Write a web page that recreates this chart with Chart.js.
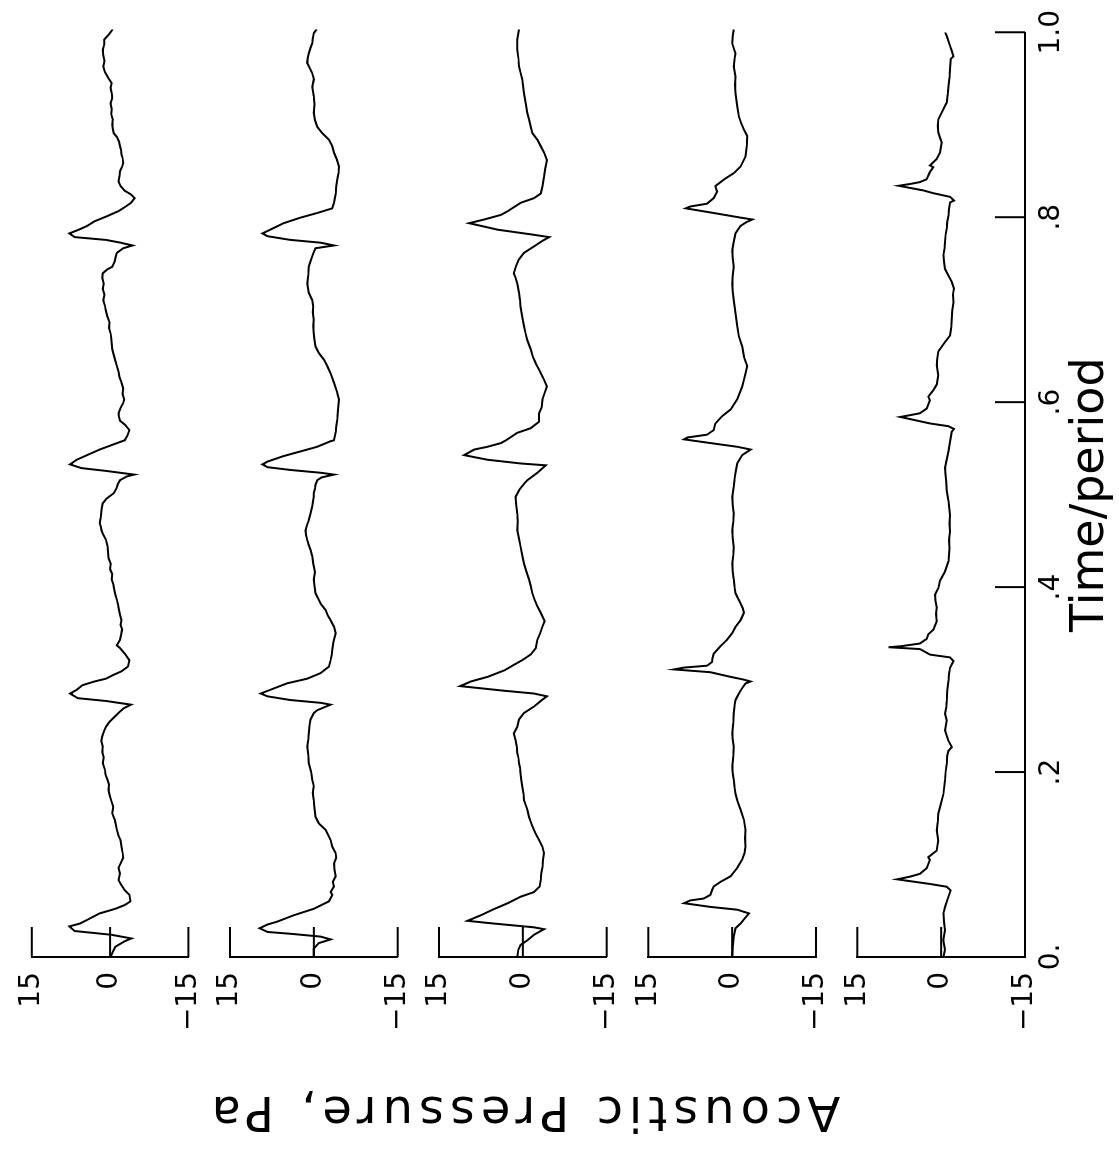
<!DOCTYPE html>
<html><head><meta charset="utf-8">
<script src="https://cdn.jsdelivr.net/npm/chart.js@4.4.1/dist/chart.umd.min.js"></script>
<style>
html,body{margin:0;padding:0;background:#fff;overflow:hidden;width:1119px;height:1153px;}
#fig{position:absolute;left:-17px;top:17px;width:1153px;height:1119px;transform:rotate(-90deg);transform-origin:50% 50%;background:#fff;}
#fig canvas{position:absolute;left:0;top:0;}
#ytitle{position:absolute;left:-411px;top:499px;width:900px;height:48px;line-height:48px;text-align:center;
 font-family:'DejaVu Sans',sans-serif;font-size:48px;letter-spacing:6px;color:#000;white-space:nowrap;transform:rotate(-90deg);transform-origin:50% 50%;}
</style></head>
<body>
<div id="fig">
<canvas id="c0" width="1153" height="1119"></canvas>
<canvas id="c1" width="1153" height="1119"></canvas>
<canvas id="c2" width="1153" height="1119"></canvas>
<canvas id="c3" width="1153" height="1119"></canvas>
<canvas id="c4" width="1153" height="1119"></canvas>
<div id="ytitle">Acoustic Pressure, Pa</div>
</div>
<script>
// ---------- data: [time/period, acoustic pressure Pa] ----------
const panel1 = [[0,-0.1],[.004,-0.4],[.011,-1.0],[.017,-2.8],[.020,-4.1],[.024,-0.2],[.028,6.8],[.033,7.8],[.036,5.8],[.040,4.4],[.047,2.0],[.052,-1.0],[.056,-2.8],[.060,-3.9],[.067,-3.7],[.072,-2.8],[.078,-2.1],[.083,-1.6],[.090,-1.9],[.096,-1.6],[.101,-2.0],[.107,-2.5],[.112,-2.4],[.119,-2.2],[.126,-2.0],[.131,-1.6],[.137,-1.3],[.143,-1.1],[.148,-0.9],[.155,-0.4],[.162,-0.6],[.169,-0.2],[.175,0.1],[.180,0.3],[.186,0.2],[.191,0.5],[.197,0.9],[.202,1.0],[.209,1.4],[.215,1.2],[.221,1.5],[.227,1.4],[.233,1.7],[.238,1.5],[.243,1.2],[.248,0.8],[.253,0.2],[.257,-0.5],[.263,-1.6],[.268,-2.6],[.272,-4.0],[.276,0.8],[.279,6.2],[.284,7.7],[.288,6.4],[.293,5.3],[.297,3.0],[.300,0.8],[.304,-0.6],[.308,-2.2],[.313,-3.4],[.320,-3.7],[.327,-2.8],[.333,-1.9],[.336,-1.3],[.342,-1.9],[.347,-2.1],[.353,-2.3],[.358,-2.0],[.363,-2.2],[.369,-1.9],[.374,-1.7],[.380,-1.5],[.385,-1.3],[.391,-1.0],[.396,-0.8],[.402,-0.6],[.407,-0.3],[.413,-0.4],[.418,0.0],[.424,-0.1],[.430,0.3],[.437,0.4],[.443,0.5],[.450,0.8],[.455,1.3],[.459,1.6],[.464,1.8],[.468,2.0],[.474,1.8],[.479,1.7],[.484,1.6],[.489,1.4],[.494,0.7],[.500,-0.7],[.505,-1.2],[.510,-1.5],[.514,-1.9],[.518,-3.2],[.520,-4.6],[.524,0.8],[.527,5.5],[.531,7.7],[.536,6.4],[.541,4.4],[.547,2.0],[.552,-0.4],[.557,-2.8],[.562,-3.3],[.568,-3.7],[.574,-2.8],[.578,-1.9],[.582,-1.7],[.586,-1.6],[.592,-2.0],[.597,-2.5],[.601,-2.7],[.607,-2.4],[.613,-2.5],[.619,-2.2],[.625,-1.8],[.631,-1.6],[.637,-1.3],[.643,-1.0],[.649,-0.7],[.655,-0.4],[.661,-0.3],[.667,-0.2],[.672,-0.1],[.678,0.2],[.684,0.1],[.690,0.5],[.696,0.8],[.702,1.0],[.708,1.3],[.714,1.1],[.720,1.4],[.726,1.2],[.732,1.5],[.737,1.4],[.741,0.6],[.744,-0.4],[.750,-0.9],[.755,-1.1],[.759,-1.3],[.764,-2.5],[.767,-4.3],[.770,-2.0],[.773,0.8],[.776,6.8],[.780,7.8],[.784,6.0],[.788,4.4],[.793,3.0],[.798,0.8],[.804,-1.6],[.809,-3.0],[.813,-4.0],[.818,-4.7],[.822,-4.0],[.826,-2.8],[.831,-2.0],[.836,-1.6],[.842,-1.8],[.847,-1.9],[.852,-2.3],[.856,-2.5],[.861,-2.4],[.865,-2.2],[.870,-2.1],[.874,-1.9],[.879,-1.7],[.884,-1.3],[.888,-0.7],[.893,-0.5],[.897,-0.4],[.903,-0.5],[.909,-0.2],[.914,-0.3],[.920,-0.1],[.926,-0.4],[.931,-0.3],[.937,-0.1],[.942,-0.3],[.948,0.4],[.954,1.0],[.960,1.3],[.966,1.1],[.972,1.3],[.978,1.4],[.984,1.1],[.989,1.1],[.994,0.3],[1.0,-0.5]];
const panel2 = [[0,0],[.009,0],[.015,-0.9],[.019,-3.0],[.022,-1.2],[.025,4.1],[.027,8.3],[.031,9.7],[.035,8.3],[.038,6.6],[.045,3.6],[.052,0],[.060,-2.7],[.067,-3.3],[.070,-3.0],[.076,-3.6],[.081,-3.4],[.087,-3.9],[.094,-3.7],[.101,-3.6],[.107,-4.0],[.112,-3.9],[.119,-3.3],[.126,-3.0],[.131,-2.6],[.137,-2.1],[.144,-0.9],[.151,-0.3],[.160,-0.1],[.169,0],[.177,0.2],[.184,0.0],[.191,0.3],[.197,0.4],[.202,0.6],[.209,0.9],[.218,1.0],[.227,1.2],[.234,1.0],[.241,0.9],[.249,0.8],[.256,0.6],[.263,0],[.266,-0.6],[.272,-3.0],[.274,-1.2],[.277,4.2],[.281,8.3],[.284,9.5],[.288,7.8],[.295,4.8],[.300,1.2],[.306,-1.2],[.313,-2.7],[.320,-3.0],[.326,-3.2],[.331,-3.3],[.340,-3.5],[.349,-3.9],[.356,-3.6],[.363,-3.0],[.368,-2.5],[.374,-2.1],[.381,-1.2],[.386,-0.8],[.392,-0.3],[.400,-0.1],[.407,0],[.415,-0.2],[.424,0.1],[.432,0.3],[.439,0.6],[.444,0.9],[.450,1.2],[.455,1.4],[.460,1.5],[.466,1.2],[.471,0.9],[.478,0.6],[.486,0.3],[.496,0],[.500,0],[.505,-0.2],[.509,-0.3],[.514,-0.6],[.517,-1.4],[.520,-3.6],[.522,-1.2],[.525,4.2],[.528,8.3],[.531,9.2],[.534,8.3],[.540,5.4],[.545,2.4],[.550,-0.6],[.556,-3.0],[.557,-3.6],[.566,-3.9],[.572,-4.0],[.579,-4.2],[.590,-4.3],[.601,-4.5],[.608,-4.2],[.619,-3.6],[.629,-3.0],[.637,-2.4],[.644,-1.8],[.651,-0.9],[.658,-0.3],[.665,-0.1],[.672,0],[.680,0.1],[.687,0],[.695,0.2],[.701,0.1],[.708,0.3],[.716,0.9],[.726,1.2],[.735,1.0],[.744,0.9],[.750,0.6],[.755,0.3],[.760,0.0],[.764,-0.3],[.767,-3.6],[.770,-1.2],[.773,4.2],[.777,8.3],[.780,9.2],[.784,7.8],[.791,5.4],[.797,2.4],[.802,-0.6],[.807,-3.3],[.813,-3.6],[.823,-3.9],[.831,-4.0],[.838,-4.2],[.845,-4.4],[.852,-4.5],[.860,-4.1],[.867,-3.6],[.874,-3.3],[.881,-2.7],[.888,-1.5],[.895,-0.6],[.902,-0.2],[.910,0],[.919,-0.1],[.928,0],[.938,0.3],[.946,0],[.953,0.3],[.959,0.8],[.964,1.2],[.969,1.1],[.974,0.9],[.980,0.6],[.985,0.3],[.990,0.2],[.996,0],[1.0,-0.5]];
const panel3 = [[0,1.0],[.008,0.8],[.013,0.4],[.018,-0.8],[.024,-2.0],[.030,-3.8],[.032,-2.0],[.036,5.1],[.039,9.9],[.045,7.5],[.051,5.4],[.058,2.7],[.065,0.4],[.070,-2.0],[.076,-3.0],[.083,-3.2],[.090,-3.3],[.097,-3.5],[.105,-3.6],[.112,-3.8],[.119,-3.5],[.126,-2.9],[.133,-2.3],[.141,-1.7],[.146,-1.4],[.151,-1.1],[.159,-0.8],[.164,-0.5],[.169,-0.2],[.176,-0.1],[.184,0.1],[.191,0.3],[.198,0.4],[.204,0.5],[.209,0.7],[.215,0.8],[.220,1.0],[.227,1.1],[.234,1.3],[.241,1.6],[.248,1.0],[.256,0.7],[.263,-0.2],[.270,-2.0],[.276,-3.2],[.281,-4.3],[.284,-2.0],[.287,3.3],[.292,11.2],[.297,9.3],[.302,6.3],[.309,3.3],[.315,1.6],[.320,0.1],[.326,-1.4],[.333,-2.3],[.342,-2.6],[.349,-3.1],[.356,-3.5],[.362,-3.9],[.371,-3.2],[.378,-2.6],[.385,-2.1],[.392,-1.7],[.400,-1.4],[.407,-1.1],[.416,-0.6],[.424,-0.2],[.433,0.1],[.442,0.4],[.451,0.7],[.460,1.0],[.469,0.9],[.478,1.0],[.487,1.2],[.496,1.3],[.504,0.6],[.510,-0.2],[.514,-0.8],[.522,-2.6],[.530,-4.1],[.532,0.4],[.536,6.3],[.541,10.5],[.547,8.7],[.550,6.3],[.554,3.9],[.557,3.0],[.565,1.0],[.570,-1.4],[.577,-2.9],[.586,-2.9],[.593,-3.4],[.601,-3.5],[.608,-3.9],[.615,-4.3],[.622,-3.8],[.633,-2.9],[.640,-2.3],[.647,-1.8],[.655,-1.4],[.665,-0.8],[.672,-0.5],[.680,-0.2],[.690,0.1],[.701,0.4],[.708,0.5],[.716,0.7],[.726,1.0],[.732,1.3],[.737,1.6],[.745,1.2],[.752,0.7],[.759,-0.2],[.766,-2.0],[.772,-3.5],[.776,-4.7],[.779,-1.4],[.784,4.5],[.791,9.6],[.795,6.9],[.800,3.9],[.804,2.7],[.813,0.4],[.818,-2.0],[.823,-3.2],[.831,-3.5],[.841,-3.8],[.850,-4.0],[.859,-4.3],[.867,-3.8],[.874,-3.2],[.881,-2.6],[.888,-1.7],[.895,-1.4],[.903,-1.1],[.910,-0.8],[.920,-0.5],[.931,-0.2],[.946,0.1],[.953,0.4],[.960,0.7],[.969,0.8],[.978,1.0],[.989,1.0],[1.0,0.7]];
const panel4 = [[0,0],[.011,-0.1],[.022,-0.3],[.031,-0.6],[.036,-1.5],[.042,-2.3],[.047,-3.0],[.051,-0.9],[.054,3.9],[.058,8.6],[.061,7.5],[.063,5.1],[.067,3.9],[.072,3.6],[.076,3.3],[.081,2.1],[.087,0.3],[.096,-0.9],[.105,-1.8],[.112,-2.2],[.119,-2.4],[.128,-2.3],[.137,-2.4],[.148,-2.1],[.159,-1.5],[.169,-0.9],[.176,-0.6],[.184,-0.4],[.191,-0.3],[.198,-0.1],[.205,0],[.216,-0.2],[.227,-0.3],[.234,-0.1],[.241,0],[.252,-0.2],[.263,-0.3],[.270,-0.4],[.277,-0.6],[.284,-1.2],[.290,-1.8],[.295,-2.4],[.297,-3.3],[.299,-2.1],[.302,0.3],[.307,3.9],[.310,10.4],[.312,8.6],[.314,4.5],[.318,3.6],[.322,3.5],[.327,3.3],[.335,2.1],[.342,0.9],[.349,0],[.356,-0.6],[.363,-1.5],[.371,-2.1],[.376,-1.9],[.381,-1.5],[.392,-0.6],[.400,-0.4],[.407,-0.3],[.415,-0.1],[.424,0],[.433,-0.2],[.442,-0.3],[.451,-0.1],[.460,0],[.469,-0.2],[.478,-0.3],[.487,-0.1],[.496,0],[.507,-0.3],[.514,-0.4],[.522,-0.6],[.532,-0.9],[.541,-1.8],[.547,-3.3],[.550,-0.9],[.554,3.9],[.558,8.6],[.560,8.0],[.563,4.5],[.568,3.3],[.575,3.0],[.583,1.8],[.590,0.3],[.601,-0.9],[.615,-1.8],[.622,-2.1],[.629,-2.4],[.637,-2.7],[.647,-2.1],[.658,-1.8],[.669,-1.2],[.680,-0.9],[.694,-0.6],[.708,-0.3],[.717,-0.1],[.726,0],[.735,-0.1],[.744,-0.3],[.753,-0.1],[.762,0],[.771,-0.3],[.780,-0.6],[.788,-1.5],[.792,-2.5],[.795,-3.6],[.797,-1.5],[.802,3.3],[.807,8.3],[.809,7.5],[.812,4.5],[.818,3.3],[.825,2.7],[.831,3.0],[.838,1.5],[.845,-0.3],[.852,-1.5],[.863,-2.4],[.874,-2.6],[.885,-2.7],[.892,-2.1],[.899,-1.6],[.906,-1.2],[.917,-0.9],[.931,-0.6],[.940,-0.5],[.949,-0.6],[.960,-0.3],[.967,-0.4],[.974,-0.6],[.985,0],[.993,-0.1],[1.0,-0.3]];
const panel5 = [[0,-0.4],[.008,-0.7],[.018,-0.4],[.029,-0.7],[.038,-0.5],[.047,-0.4],[.054,-0.7],[.065,-1.3],[.072,-1.7],[.076,-1.0],[.079,2.0],[.084,7.9],[.087,5.5],[.090,3.8],[.096,2.6],[.105,2.0],[.108,2.3],[.115,0.8],[.126,0.5],[.137,0.8],[.146,0.6],[.155,0.5],[.162,0.2],[.176,-0.4],[.191,-0.7],[.200,-0.8],[.209,-1.0],[.218,-1.1],[.223,-1.3],[.227,-1.9],[.234,-1.3],[.245,-0.7],[.256,-1.0],[.263,-0.7],[.270,-0.9],[.277,-1.0],[.288,-1.1],[.299,-1.3],[.306,-1.4],[.313,-1.6],[.320,-2.2],[.324,-1.6],[.327,2.0],[.333,3.8],[.335,9.4],[.336,7.3],[.339,3.8],[.344,2.6],[.349,2.3],[.354,1.4],[.363,0.8],[.371,0.9],[.378,0.8],[.385,1.0],[.392,1.1],[.399,0.5],[.407,0.2],[.417,-0.7],[.428,-1.3],[.435,-1.4],[.442,-1.5],[.451,-1.4],[.460,-1.6],[.469,-1.5],[.478,-1.6],[.493,-1.3],[.504,-1.0],[.514,-0.9],[.522,-0.8],[.529,-0.7],[.538,-1.0],[.547,-1.3],[.557,-1.6],[.568,-1.9],[.571,-2.3],[.574,-1.3],[.577,2.0],[.584,7.3],[.586,5.5],[.588,3.8],[.593,2.6],[.602,2.0],[.606,2.3],[.613,1.4],[.619,0.8],[.629,0.5],[.640,0.8],[.647,0.7],[.655,0.5],[.665,-0.7],[.672,-1.6],[.681,-1.8],[.690,-1.9],[.699,-2.0],[.708,-2.2],[.716,-2.1],[.723,-2.3],[.730,-1.9],[.737,-1.3],[.744,-0.7],[.752,-0.5],[.759,-0.4],[.766,-0.6],[.773,-0.7],[.781,-0.8],[.788,-1.0],[.795,-1.1],[.802,-1.3],[.809,-1.4],[.816,-1.6],[.818,-2.3],[.822,-1.6],[.826,1.4],[.829,3.2],[.834,7.6],[.836,5.5],[.838,3.8],[.841,2.6],[.849,2.0],[.854,1.4],[.856,2.0],[.863,0.8],[.870,0.2],[.881,-0.1],[.886,0.2],[.892,0.5],[.899,0.6],[.906,0.5],[.913,-0.1],[.918,-0.5],[.924,-1.0],[.933,-1.2],[.942,-1.3],[.951,-1.5],[.960,-1.6],[.971,-1.7],[.974,-2.2],[.980,-1.9],[.985,-1.6],[.996,-1.0],[1.0,-0.7]];
const panels = [panel1, panel2, panel3, panel4, panel5];
const timeTicks = [0, 0.2, 0.4, 0.6, 0.8, 1.0];
const timeTickLabels = ['0.', '.2', '.4', '.6', '.8', '1.0'];
const pressureTicks = [-15, 0, 15];
const pressureTickLabels = ['\u221215', '0', '15'];
const xTitle = 'Time/period';

// ---------- layout (original, unrotated orientation) ----------
const W = 1153, H = 1119;
const PLOT_LEFT = 196, PLOT_RIGHT = 1123.7;
const PANEL_TOP = [20.7, 230, 439, 648.3, 857.3];
const PANEL_H = 167.7;
const TICK_LEN = 30;

Chart.defaults.font.family = "'DejaVu Sans', sans-serif";
Chart.defaults.color = '#000';

const inwardTicks = {
  id: 'inwardTicks',
  afterDraw(chart) {
    const {ctx, chartArea, scales} = chart;
    ctx.save();
    ctx.strokeStyle = '#000';
    ctx.lineWidth = 2;
    const ys = scales.y;
    ys.ticks.forEach(t => {
      const py = ys.getPixelForValue(t.value);
      ctx.beginPath(); ctx.moveTo(chartArea.left, py); ctx.lineTo(chartArea.left + TICK_LEN, py); ctx.stroke();
    });
    const xs = scales.x;
    if (xs.options.display) {
      xs.ticks.forEach(t => {
        const px = xs.getPixelForValue(t.value);
        ctx.beginPath(); ctx.moveTo(px, chartArea.bottom); ctx.lineTo(px, chartArea.bottom - TICK_LEN); ctx.stroke();
      });
    }
    ctx.restore();
  }
};

panels.forEach((series, k) => {
  const isBottom = k === panels.length - 1;
  const top = PANEL_TOP[k];
  new Chart(document.getElementById('c' + k), {
    type: 'line',
    data: { datasets: [{
      data: series.map(([t, p]) => ({x: t, y: p})),
      borderColor: '#000', borderWidth: 2, pointRadius: 0, tension: 0, fill: false
    }]},
    options: {
      responsive: false, animation: false, events: [],
      layout: { padding: { top: top, left: 0, right: W - PLOT_RIGHT, bottom: isBottom ? 0 : H - top - PANEL_H } },
      plugins: { legend: {display: false}, tooltip: {enabled: false} },
      scales: {
        x: {
          type: 'linear', min: 0, max: 1, display: isBottom,
          afterBuildTicks: s => { s.ticks = timeTicks.map(v => ({value: v})); },
          ticks: { autoSkip: false, maxRotation: 0, padding: 10, color: '#000', font: {size: 28},
                   callback: (v, i) => timeTickLabels[i] },
          grid: { display: false, drawTicks: false },
          border: { display: true, color: '#000', width: 2 },
          title: { display: true, text: xTitle, color: '#000', font: {size: 46}, padding: {top: 0, bottom: 0} },
          afterFit: s => { if (isBottom) s.height = H - (PANEL_TOP[4] + PANEL_H); }
        },
        y: {
          type: 'linear', min: -15, max: 15,
          afterBuildTicks: s => { s.ticks = pressureTicks.map(v => ({value: v})); },
          ticks: { padding: 15, color: '#000', font: {size: 28},
                   callback: (v, i) => pressureTickLabels[i] },
          grid: { display: false, drawTicks: false },
          border: { display: true, color: '#000', width: 2 },
          afterFit: s => { s.width = PLOT_LEFT; }
        }
      }
    },
    plugins: [inwardTicks]
  });
});
</script>
</body></html>
